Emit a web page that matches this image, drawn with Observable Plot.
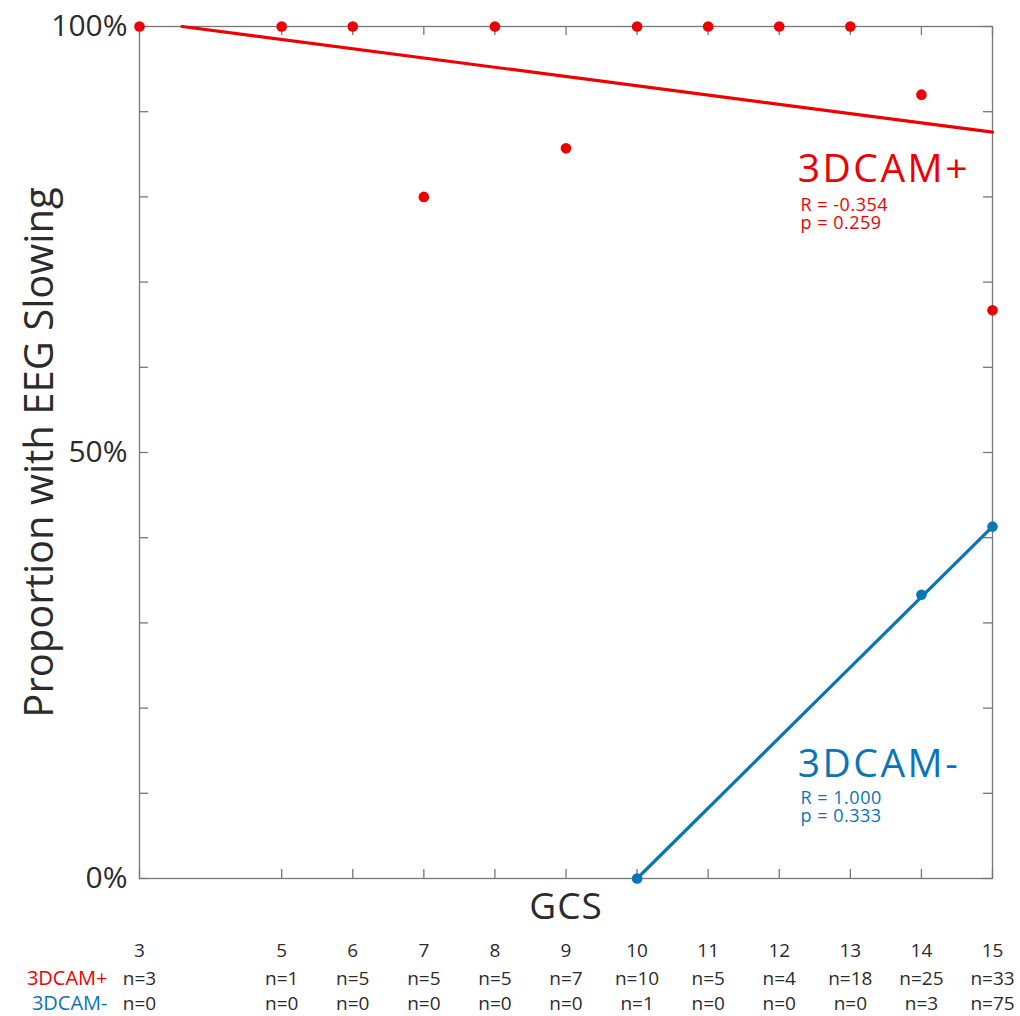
<!DOCTYPE html>
<html>
<head>
<meta charset="utf-8">
<script src="https://cdn.jsdelivr.net/npm/d3@7"></script>
<script src="https://cdn.jsdelivr.net/npm/@observablehq/plot@0.6"></script>
<style>
  body { margin: 0; background: #fff; }
  svg { display: block; }
</style>
</head>
<body>
<div id="chart"></div>
<script>
// GCS score categories and group sizes
const gcs = [3, 5, 6, 7, 8, 9, 10, 11, 12, 13, 14, 15];
const nPositive = [3, 1, 5, 5, 5, 7, 10, 5, 4, 18, 25, 33];
const nNegative = [0, 0, 0, 0, 0, 0, 1, 0, 0, 0, 3, 75];

// Percentage with EEG slowing per GCS score (null = no patients)
const slowingPositive = [100, 100, 100, 80, 100, 85.7, 100, 100, 100, 100, 92, 66.7];
const slowingNegative = [null, null, null, null, null, null, 0, null, null, null, 33.3, 41.3];

// Fitted trend lines (end points)
const fitPositiveX = [3.6, 15];
const fitPositiveY = [100, 87.6];
const fitNegativeX = [10, 15];
const fitNegativeY = [0, 41.3];

// Group names and statistics
const groups = ["3DCAM+", "3DCAM-"];
const statsPositive = ["R = -0.354", "p = 0.259"];
const statsNegative = ["R = 1.000", "p = 0.333"];

// Axis ticks
const yTickLabels = [0, 50, 100];
const yMinorTicks = [0, 10, 20, 30, 40, 50, 60, 70, 80, 90, 100];

const RED = "#ee0000";
const BLUE = "#0a74b8";
const AXIS = "#777";
const INK = "#2b2b2b";

const W = 1020, H = 1016;
const mTop = 26, mBottom = 138, mLeft = 139, mRight = 28;
const frameW = W - mLeft - mRight;
const frameH = H - mTop - mBottom;
const tickLen = 9;

const pos = gcs.map((g, i) => ({g, v: slowingPositive[i], n: nPositive[i]}));
const neg = gcs.map((g, i) => ({g, v: slowingNegative[i], n: nNegative[i]}));
const fitPos = fitPositiveX.map((x, i) => ({x, y: fitPositiveY[i]}));
const fitNeg = fitNegativeX.map((x, i) => ({x, y: fitNegativeY[i]}));

const chart = Plot.plot({
  width: W,
  height: H,
  marginTop: mTop,
  marginBottom: mBottom,
  marginLeft: mLeft,
  marginRight: mRight,
  style: {fontFamily: "'Open Sans', sans-serif", background: "#fff", color: INK},
  x: {domain: [3, 15], axis: null},
  y: {domain: [0, 100], axis: null},
  marks: [
    Plot.frame({stroke: AXIS, strokeWidth: 1.3}),
    // inward tick marks on all four sides
    Plot.tickY(yMinorTicks, {y: d => d, stroke: AXIS, strokeWidth: 1.3, insetRight: frameW - tickLen}),
    Plot.tickY(yMinorTicks, {y: d => d, stroke: AXIS, strokeWidth: 1.3, insetLeft: frameW - tickLen}),
    Plot.tickX(gcs, {x: d => d, stroke: AXIS, strokeWidth: 1.3, insetTop: frameH - tickLen}),
    Plot.tickX(gcs, {x: d => d, stroke: AXIS, strokeWidth: 1.3, insetBottom: frameH - tickLen}),
    Plot.axisY(yTickLabels, {tickSize: 0, tickPadding: 12, tickFormat: d => d + "%", fontSize: 30, fill: INK}),
    // trend lines
    Plot.line(fitPos, {x: "x", y: "y", stroke: RED, strokeWidth: 3.2}),
    Plot.line(fitNeg, {x: "x", y: "y", stroke: BLUE, strokeWidth: 3.2}),
    // observed proportions
    Plot.dot(pos.filter(d => d.v != null), {x: "g", y: "v", r: 5.3, fill: RED}),
    Plot.dot(neg.filter(d => d.v != null), {x: "g", y: "v", r: 5.3, fill: BLUE}),
    // group annotations
    Plot.text([groups[0]], {x: 12.26, y: 83.2, text: d => d, fill: RED, fontSize: 39, textAnchor: "start", lineAnchor: "middle"}),
    Plot.text([statsPositive.join("\n")], {x: 12.3, y: 79.9, text: d => d, fill: RED, fontSize: 18, lineHeight: 1.0, textAnchor: "start", lineAnchor: "top"}),
    Plot.text([groups[1]], {x: 12.26, y: 13.4, text: d => d, fill: BLUE, fontSize: 39, textAnchor: "start", lineAnchor: "middle"}),
    Plot.text([statsNegative.join("\n")], {x: 12.3, y: 10.2, text: d => d, fill: BLUE, fontSize: 18, lineHeight: 1.0, textAnchor: "start", lineAnchor: "top"}),
    // axis titles
    Plot.text(["Proportion with EEG Slowing"], {frameAnchor: "left", dx: -99, rotate: -90, text: d => d, fontSize: 40, fill: INK, textAnchor: "middle", lineAnchor: "middle"}),
    Plot.text(["GCS"], {frameAnchor: "bottom", dy: 29, text: d => d, fontSize: 37, fill: INK, lineAnchor: "middle"}),
    // table of GCS values and group counts
    Plot.text(gcs, {x: d => d, frameAnchor: "bottom", dy: 72, text: d => String(d), fontSize: 19, fill: INK, lineAnchor: "middle"}),
    Plot.text(pos, {x: "g", frameAnchor: "bottom", dy: 100, text: d => `n=${d.n}`, fontSize: 19, fill: INK, lineAnchor: "middle"}),
    Plot.text(neg, {x: "g", frameAnchor: "bottom", dy: 125, text: d => `n=${d.n}`, fontSize: 19, fill: INK, lineAnchor: "middle"}),
    Plot.text([groups[0]], {frameAnchor: "bottom-left", dx: -32, dy: 100, text: d => d, fontSize: 20, fill: RED, textAnchor: "end", lineAnchor: "middle"}),
    Plot.text([groups[1]], {frameAnchor: "bottom-left", dx: -32, dy: 125, text: d => d, fontSize: 20, fill: BLUE, textAnchor: "end", lineAnchor: "middle"})
  ]
});

// Wider letter spacing for the in-plot group labels, their statistics and the x title
chart.querySelectorAll("text").forEach(t => {
  const fs = t.getAttribute("font-size") || (t.parentNode && t.parentNode.getAttribute && t.parentNode.getAttribute("font-size"));
  if (fs === "39") t.setAttribute("letter-spacing", "2.5");
  if (fs === "37") t.setAttribute("letter-spacing", "1");
  if (fs === "18") t.setAttribute("letter-spacing", "0.5");
});

document.getElementById("chart").appendChild(chart);
</script>
</body>
</html>
